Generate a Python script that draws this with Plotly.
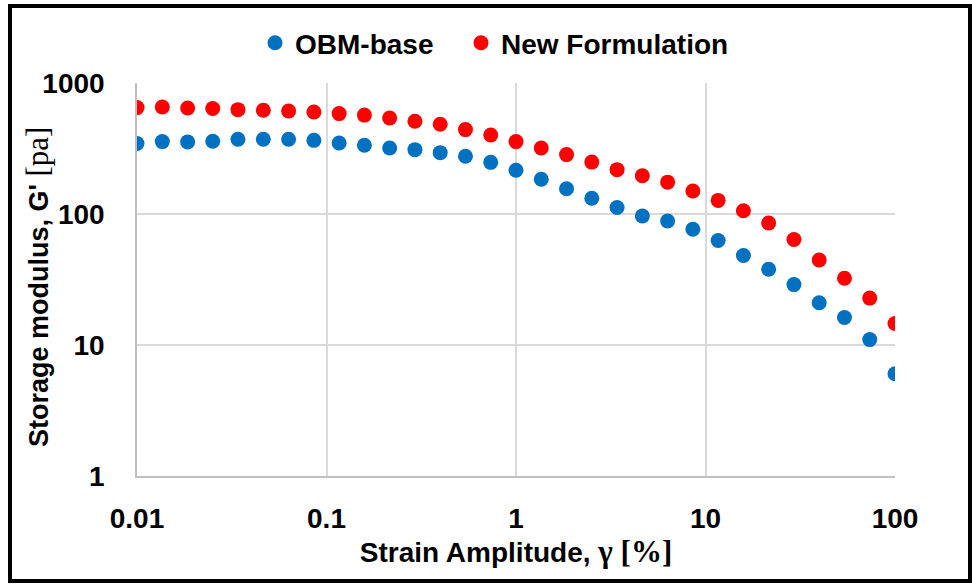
import plotly.graph_objects as go

strain = [0.01, 0.0136, 0.0185, 0.0251, 0.0341, 0.0464, 0.0631, 0.0858, 0.1166, 0.1585,
          0.2154, 0.2929, 0.3981, 0.5412, 0.7356, 1.0, 1.359, 1.848, 2.512, 3.415,
          4.642, 6.310, 8.577, 11.66, 15.85, 21.54, 29.29, 39.81, 54.12, 73.56, 100.0]
obm_base = [345, 357, 355, 359, 372, 372, 372, 365, 348, 335,
            319, 310, 294, 276, 248, 216, 184, 156, 132, 112,
            96.6, 88.5, 76.5, 62.7, 48.2, 37.9, 28.9, 21.0, 16.2, 11.0, 6.04]
new_form = [649, 656, 645, 638, 626, 619, 611, 601, 584, 569,
            540, 510, 484, 441, 401, 357, 319, 284, 249, 218,
            196, 175, 150, 127, 106, 85.4, 63.8, 44.6, 32.3, 22.8, 14.6]
series_names = ["OBM-base", "New Formulation"]
x_ticks = [0.01, 0.1, 1, 10, 100]
x_tick_text = ["0.01", "0.1", "1", "10", "100"]
y_ticks = [1, 10, 100, 1000]
y_tick_text = ["1", "10", "100", "1000"]
x_title = "Strain Amplitude, "
x_title_serif = "γ [%]"
y_title = "Storage modulus, G' "
y_title_serif = "[pa]"

FONT = "Liberation Sans, Arial, sans-serif"
SERIF = "Liberation Serif, Times New Roman, serif"

W, H = 972, 584
L, R, T, B = 137, 77, 83, 108
pw, ph = W - L - R, H - T - B

fig = go.Figure()
fig.add_trace(go.Scatter(x=strain, y=obm_base, mode="markers", name=series_names[0],
                         marker=dict(color="#0070C0", size=15), legend="legend"))
fig.add_trace(go.Scatter(x=strain, y=new_form, mode="markers", name=series_names[1],
                         marker=dict(color="#FF0000", size=15), legend="legend2"))

tickfont = dict(family=FONT, size=28, color="black", weight="bold")
axis_common = dict(showgrid=True, gridcolor="#d9d9d9", gridwidth=1.5,
                   showline=True, linecolor="#bfbfbf", linewidth=1.5,
                   zeroline=False, ticks="", tickfont=tickfont)

fig.update_xaxes(type="log", range=[-2, 2], tickvals=x_ticks, ticktext=x_tick_text,
                 ticklabelstandoff=17,
                 title=dict(text=x_title + "<span style=\"font-family:" + SERIF +
                                 ";font-size:31px\">" + x_title_serif + "</span>",
                            font=dict(family=FONT, size=28, color="black", weight="bold"), standoff=5),
                 **axis_common)
fig.update_yaxes(type="log", range=[0, 3], tickvals=y_ticks, ticktext=y_tick_text,
                 ticklabelstandoff=25, **axis_common)

# y-axis title placed as a rotated annotation
fig.add_annotation(xref="paper", yref="paper", x=(37 - L) / pw, y=1 - (287 - T) / ph,
                   xanchor="center", yanchor="middle", textangle=-90, showarrow=False,
                   text=y_title + "<span style=\"font-family:" + SERIF +
                        ";font-size:31px;font-weight:normal\">" + y_title_serif + "</span>",
                   font=dict(family=FONT, size=27, color="black", weight="bold"))

legend_common = dict(orientation="h", xanchor="left", y=1.0 + (T - 43) / ph, yanchor="middle",
                     font=dict(family=FONT, size=28, color="black", weight="bold"),
                     itemsizing="trace", itemwidth=30, bgcolor="rgba(0,0,0,0)")

fig.update_layout(
    width=W, height=H, autosize=False,
    margin=dict(l=L, r=R, t=T, b=B),
    plot_bgcolor="white", paper_bgcolor="white",
    font=dict(family=FONT, size=26, color="black"),
    showlegend=True,
    legend=dict(x=(255 - L) / pw, **legend_common),
    legend2=dict(x=(461 - L) / pw, **legend_common),
)

# outer figure border
x0 = (10 - L) / pw
x1 = (970 - L) / pw
y1 = 1 + (T - 6) / ph
y0 = -(581 - (H - B)) / ph
fig.add_shape(type="rect", xref="paper", yref="paper", x0=x0, x1=x1, y0=y0, y1=y1,
              line=dict(color="black", width=4), fillcolor="rgba(0,0,0,0)", layer="above")

fig.write_html("out.html")
